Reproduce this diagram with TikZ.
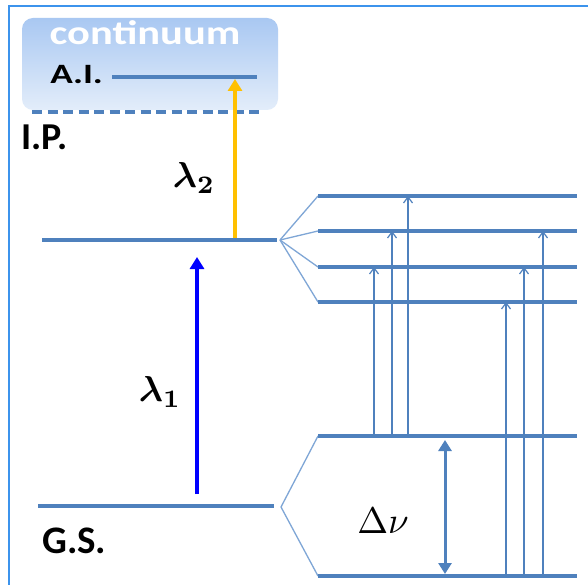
\documentclass[tikz,border=0pt]{standalone}
\usepackage{fontspec}
\setmainfont{Carlito}
\usetikzlibrary{arrows.meta}
\definecolor{lev}{HTML}{4F81BD}
\definecolor{fan}{HTML}{7FA6D6}
\definecolor{frame}{HTML}{3C93EC}
\definecolor{ctop}{HTML}{A9C8F2}
\definecolor{cbot}{HTML}{E3EDFA}
\definecolor{laserb}{HTML}{0000FF}
\definecolor{lasero}{HTML}{FFC000}
\tikzset{
  level/.style={draw=lev, line width=4pt},
  fanline/.style={draw=fan, line width=1.3pt},
  thinarrow/.style={draw=lev, line width=1.3pt, -{Straight Barb[length=6pt,width=9pt,line width=1.2pt]}},
  laser/.style={line width=4.5pt, -{Triangle[length=12pt,width=14pt]}},
  lbl/.style={inner sep=0pt, font=\bfseries},
  mlbl/.style={inner sep=0pt, scale=3.6, font=\boldmath},
}
\begin{document}
\begin{tikzpicture}[x=1pt,y=-1pt]
\useasboundingbox (0,0) rectangle (588,585);
\fill[white] (0,0) rectangle (588,585);
% frame
\draw[frame, line width=2pt] (9,586) -- (9,6) -- (589,6);
% continuum box
\shade[rounded corners=11pt, top color=ctop, bottom color=cbot] (22,18) rectangle (278,110);
\node[lbl, text=white, xscale=1.25, font=\fontsize{34}{34}\selectfont\bfseries] (cont) at (145,33) {continuum};
% A.I.
\node[lbl, xscale=1.33, font=\fontsize{28}{28}\selectfont\bfseries, anchor=base west] (ai) at (50,84) {A.I.};
\coordinate (aiL) at (112,77); \coordinate (aiR) at (257,77);
\draw[level, line width=3.5pt] (aiL) -- (aiR);
% I.P.
\coordinate (ipL) at (32,112); \coordinate (ipR) at (262,112);
\draw[draw=lev, line width=3.5pt, dash pattern=on 10pt off 5.5pt] (ipL) -- (ipR);
\node[lbl, font=\fontsize{38}{38}\selectfont\bfseries, anchor=base west] (ip) at (21,150) {I.P.};
% intermediate level
\coordinate (imL) at (42,240); \coordinate (imR) at (277,240);
\draw[level, line width=3.5pt] (imL) -- (imR);
% ground state
\coordinate (gsL) at (38,506); \coordinate (gsR) at (274,506);
\draw[level, line width=3.5pt] (gsL) -- (gsR);
\node[lbl, font=\fontsize{39}{39}\selectfont\bfseries, anchor=base west] (gs) at (42,553) {G.S.};
% lasers
\coordinate (b0) at (197,494); \coordinate (b1) at (197,257);
\draw[laser, laserb] (b0) -- (b1);
\node[mlbl] (l1) at (160,392) {$\lambda_1$};
\coordinate (o0) at (235,238); \coordinate (o1) at (235,79);
\draw[laser, lasero] (o0) -- (o1);
\node[mlbl] (l2) at (194,178) {$\lambda_2$};
% upper hyperfine fan
\coordinate (fu) at (280,240);
\foreach \n/\y in {a/196,b/231,c/267,d/302}{
  \coordinate (u\n L) at (318,\y); \coordinate (u\n R) at (577,\y);
  \draw[fanline] (fu) -- (u\n L);
  \draw[level] (u\n L) -- (u\n R);
}
% lower hyperfine fan
\coordinate (fl) at (281,507);
\coordinate (la L) at (318,436); \coordinate (la R) at (577,436);
\coordinate (lb L) at (318,576); \coordinate (lb R) at (577,576);
\draw[fanline] (la L) -- (fl) -- (lb L);
\draw[level] (la L) -- (la R);
\draw[level] (lb L) -- (lb R);
% thin transition arrows
\foreach \x/\y in {374/267,392/231,408/196}{
  \draw[thinarrow] (\x,436) -- (\x,\y);
}
\foreach \x/\y in {506/302,524/267,543/231}{
  \draw[thinarrow] (\x,576) -- (\x,\y);
}
% delta nu
\coordinate (dn0) at (445,440); \coordinate (dn1) at (445,574);
\draw[draw=lev, line width=3pt, {Triangle[length=11pt,width=13pt]}-{Triangle[length=11pt,width=13pt]}] (dn0) -- (dn1);
\node[inner sep=0pt, scale=3.7] (dnu) at (383,521) {$\Delta\nu$};
\end{tikzpicture}
\end{document}
